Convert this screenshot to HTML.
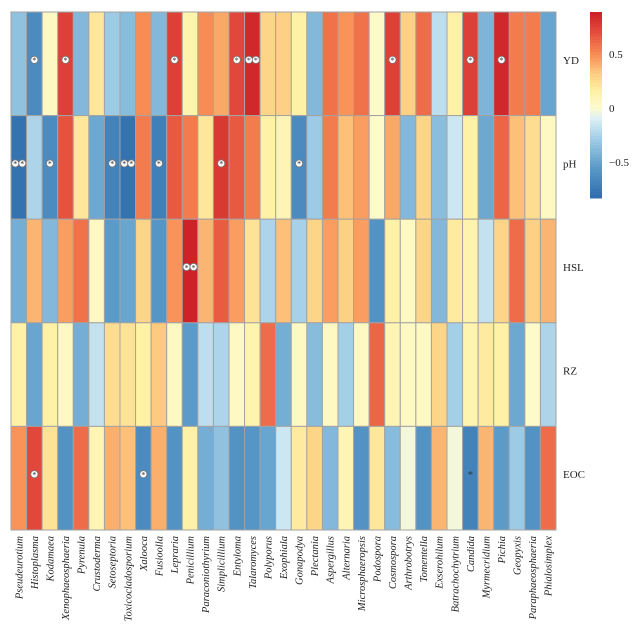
<!DOCTYPE html>
<html><head><meta charset="utf-8"><style>
body{margin:0;background:#fff;}
svg text{font-family:"Liberation Serif",serif;}
</style></head><body>
<svg id="chart" width="639" height="639" xmlns="http://www.w3.org/2000/svg"></svg>
<script>
const genera=["Pseudeurotium","Histoplasma","Kodamaea","Xenophaeosphaeria","Pyrenula","Crustoderma","Setoseptoria","Toxicocladosporium","Xalooca","Fusioolla","Lepraria","Penicillium","Paraconiothyrium","Simplicillium","Entyloma","Talaromyces","Polyporus","Exophiala","Gonapodya","Plectania","Aspergillus","Alternaria","Microsphaeropsis","Podospora","Cosmospora","Arthrobotrys","Tomentella","Exserohilum","Batrachochytrium","Candida","Myrmecridium","Pichia","Geopyxis","Paraphaeosphaeria","Phialosimplex"];
const factors=["YD","pH","HSL","RZ","EOC"];
const valYD=[-0.35,-0.65,0.05,0.75,-0.4,0.2,-0.3,-0.38,0.5,-0.4,0.75,0.12,0.5,0.42,0.72,0.85,0.28,0.3,0.15,-0.4,0.58,0.48,0.58,0.03,0.75,0.3,0.6,-0.2,0.15,0.75,-0.42,0.85,0.55,0.55,-0.5];
const valPH=[-0.8,-0.25,-0.65,0.68,0.2,-0.48,-0.7,-0.8,0.55,-0.72,0.66,0.55,0.2,0.78,0.66,0.55,0.15,0.1,-0.65,-0.3,0.55,0.35,0.45,0.02,0.42,-0.4,0.28,-0.37,-0.15,0.15,-0.48,0.62,0.35,0.25,0.05];
const valHSL=[-0.45,0.38,-0.4,0.45,0.58,0.05,-0.55,-0.5,0.28,-0.58,0.48,0.88,0.38,0.65,0.45,0.22,-0.25,0.35,-0.27,0.28,0.45,0.3,0.45,-0.6,0.15,0.05,0.28,-0.4,0.18,0.12,-0.18,0.28,0.6,0.3,0.38];
const valRZ=[0.15,-0.5,0.15,0.05,-0.45,-0.18,0.25,0.22,0.15,0.32,0.05,-0.55,-0.2,-0.25,0.05,0.12,0.6,-0.45,0.05,-0.38,0.05,-0.28,0.05,0.62,0.1,0.05,0.05,0.28,-0.28,0.12,0.18,0.15,-0.48,0.02,-0.25];
const valEOC=[0.48,0.72,0.22,-0.6,0.6,0.1,0.4,0.35,-0.65,0.4,-0.6,0.15,-0.45,-0.35,-0.6,-0.58,-0.5,-0.15,0.18,0.28,-0.4,0.1,-0.6,0.2,-0.38,-0.03,-0.6,0.38,-0.03,-0.7,0.38,-0.55,-0.3,-0.6,0.6];
// significance: 1 = one circled star, 2 = two, 3 = plain star
const sigYD=[0,1,0,1,0,0,0,0,0,0,1,0,0,0,1,2,0,0,0,0,0,0,0,0,1,0,0,0,0,1,0,1,0,0,0];
const sigPH=[2,0,1,0,0,0,1,2,0,1,0,0,0,1,0,0,0,0,1,0,0,0,0,0,0,0,0,0,0,0,0,0,0,0,0];
const sigHSL=[0,0,0,0,0,0,0,0,0,0,0,2,0,0,0,0,0,0,0,0,0,0,0,0,0,0,0,0,0,0,0,0,0,0,0];
const sigRZ=[0,0,0,0,0,0,0,0,0,0,0,0,0,0,0,0,0,0,0,0,0,0,0,0,0,0,0,0,0,0,0,0,0,0,0];
const sigEOC=[0,1,0,0,0,0,0,0,1,0,0,0,0,0,0,0,0,0,0,0,0,0,0,0,0,0,0,0,0,3,0,0,0,0,0];
const legendTicks=[0.5,0,-0.5];
const values=[valYD,valPH,valHSL,valRZ,valEOC];
const sigs=[sigYD,sigPH,sigHSL,sigRZ,sigEOC];

const NS="http://www.w3.org/2000/svg";
const svg=document.getElementById('chart');
function mk(t,a,p){const e=document.createElementNS(NS,t);for(const k in a)e.setAttribute(k,a[k]);(p||svg).appendChild(e);return e;}
const L=11,R=556,T=12,B=530;
const cw=(R-L)/genera.length, rh=(B-T)/factors.length;
const xPos=i=>L+i*cw, yPos=j=>T+j*rh;
const stopV=[-0.85,-0.55,-0.3,-0.1,0,0.15,0.3,0.5,0.7,0.88];
const stopC=["#2c6aab","#5b9bc9","#9dcbe5","#dcf0f6","#fdfcd0","#fff2a6","#fdd185","#f88c55","#e44c3c","#cc2228"];
function hex(h){return [1,3,5].map(i=>parseInt(h.substr(i,2),16));}
function color(v){
  if(v<=stopV[0])return stopC[0];
  if(v>=stopV[stopV.length-1])return stopC[stopC.length-1];
  let i=0;while(v>stopV[i+1])i++;
  const f=(v-stopV[i])/(stopV[i+1]-stopV[i]);
  const a=hex(stopC[i]),b=hex(stopC[i+1]);
  return "rgb("+a.map((c,k)=>Math.round(c+(b[k]-c)*f)).join(",")+")";
}

const gCells=mk('g',{});


for(let j=0;j<factors.length;j++){
  for(let i=0;i<genera.length;i++){
    const r=mk('rect',{x:xPos(i),y:yPos(j),width:cw,height:rh,fill:color(values[j][i]),stroke:"#a3a3a3","stroke-width":1},gCells);
    
    
    const s=sigs[j][i];
    const cx=xPos(i)+cw/2, cy=yPos(j)+rh/2-4;
    if(s===1||s===2){
      const offs=s===1?[0]:[-3.5,3.5];
      offs.forEach(o=>{
        const c=mk('circle',{cx:cx+o,cy:cy,r:3.6,fill:"#fff",stroke:"#777","stroke-width":0.8},gCells);
        
        
        const t=mk('text',{x:cx+o,y:cy+3.3,"text-anchor":"middle","font-size":8,fill:"#333"},gCells);
        t.textContent="*";
      });
    } else if(s===3){
      const t=mk('text',{x:cx,y:cy+4,"text-anchor":"middle","font-size":11,fill:"#333"},gCells);
      
      
      t.textContent="*";
    }
  }
}
factors.forEach((f,j)=>{
  const t=mk('text',{x:563,y:yPos(j)+rh/2,"font-size":11,fill:"#222"});
  
  
  t.textContent=f;
});
genera.forEach((g,i)=>{
  const x=xPos(i)+cw/2+3.5, y=536;
  const t=mk('text',{x:x,y:y,"font-size":10.5,"font-style":"italic","text-anchor":"end",fill:"#222",transform:"rotate(-90 "+x+" "+y+")"});
  
  
  t.textContent=g;
});
const lt=12,lb=198,lx=590,lw=12;
const ly=v=>108-v*108;
const gL=mk('g',{});


const N=60;
for(let k=0;k<N;k++){
  const y0=lt+(lb-lt)*k/N, y1=lt+(lb-lt)*(k+1)/N;
  const v=(108-(y0+y1)/2)/108;
  mk('rect',{x:lx,y:y0,width:lw,height:y1-y0+0.5,fill:color(v)},gL);
}
legendTicks.forEach(v=>{
  const t=mk('text',{x:609,y:ly(v)+4,"font-size":11,fill:"#222"},gL);
  
  
  t.textContent=v===0?"0":(v<0?"\u22120.5":"0.5");
});
</script>
</body></html>
